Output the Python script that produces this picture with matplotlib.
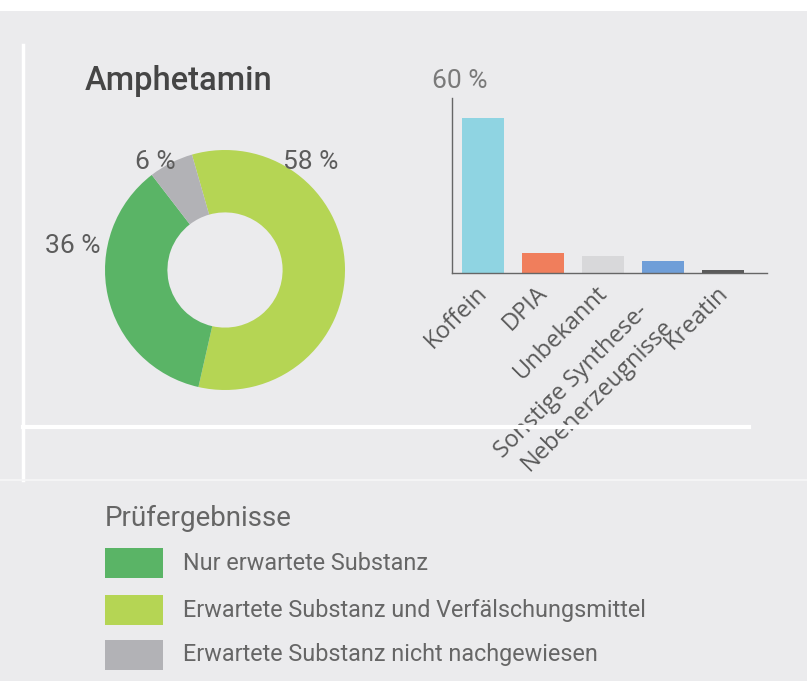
import matplotlib
matplotlib.use("Agg")
import matplotlib.pyplot as plt
from matplotlib.patches import Rectangle
from matplotlib.lines import Line2D

# ---------------- data ----------------
title = "Amphetamin"
donut_labels = ["Erwartete Substanz und Verfälschungsmittel", "Nur erwartete Substanz",
                "Erwartete Substanz nicht nachgewiesen"]
donut_values = [58, 36, 6]
donut_colors = ["#b5d554", "#5ab466", "#b2b2b6"]

legend_title = "Prüfergebnisse"
legend_labels = ["Nur erwartete Substanz", "Erwartete Substanz und Verfälschungsmittel",
                 "Erwartete Substanz nicht nachgewiesen"]
legend_colors = ["#5ab466", "#b5d554", "#b2b2b6"]

bar_categories = ["Koffein", "DPIA", "Unbekannt", "Sonstige Synthese-\nNebenerzeugnisse", "Kreatin"]
bar_values = [53, 7, 6, 4, 1]
bar_colors = ["#8fd4e2", "#f07e5c", "#d8d8da", "#6f9ed8", "#5a5a5a"]
bar_ymax = 60

W, H = 807, 681
BG = "#ebebed"
TXT = "#5a5a5a"
FONT = "Roboto"
LABEL_FONT = "Open Sans"

def fx(x):
    return x / W

def fy(y):
    return 1 - y / H

fig = plt.figure(figsize=(W / 100, H / 100), dpi=100)
fig.patch.set_facecolor(BG)

# decorative frame lines
fig.add_artist(Rectangle((0, fy(11)), 1, 11 / H, transform=fig.transFigure,
                         facecolor="white", edgecolor="none"))
fig.add_artist(Line2D([fx(23), fx(23)], [fy(45), fy(480)], transform=fig.transFigure,
                      color="white", lw=2.5))
fig.add_artist(Line2D([fx(23), fx(749)], [fy(427), fy(427)], transform=fig.transFigure,
                      color="white", lw=3))
fig.add_artist(Line2D([0, 1], [fy(480), fy(480)], transform=fig.transFigure,
                      color="#f6f6f7", lw=1.2))

# title
fig.text(fx(85), fy(81), title, fontsize=23.5, fontweight="medium", color="#454545",
         family=FONT, va="center", ha="left")

# ---------------- donut ----------------
cx, cy, r = 225, 270, 120
axd = fig.add_axes([fx(cx - r), fy(cy + r), 2 * r / W, 2 * r / H])
axd.pie(donut_values, colors=donut_colors, startangle=106, counterclock=False,
        radius=1, wedgeprops=dict(width=0.52, edgecolor="none"))
axd.set_xlim(-1, 1)
axd.set_ylim(-1, 1)
axd.axis("off")

pct_positions = [(311, 162), (73, 246), (155, 162)]
for v, (px, py) in zip(donut_values, pct_positions):
    fig.text(fx(px), fy(py), f"{v} %", fontsize=19, color="#5c5c5c",
             family=FONT, ha="center", va="center")

# ---------------- bar chart ----------------
axb = fig.add_axes([fx(452), fy(273), (767 - 452) / W, (273 - 98) / H])
axb.set_facecolor("none")
xs = list(range(len(bar_categories)))
axb.bar(xs, bar_values, width=0.7, color=bar_colors)
axb.set_xlim(-0.51, 4.74)
axb.set_ylim(0, bar_ymax)
for s in ["top", "right"]:
    axb.spines[s].set_visible(False)
for s in ["left", "bottom"]:
    axb.spines[s].set_color("#666666")
    axb.spines[s].set_linewidth(1.0)
axb.set_yticks([])
axb.set_xticks(xs)
axb.set_xticklabels([])
axb.tick_params(axis="x", length=0)

label_style = dict(xycoords=("data", "axes fraction"), textcoords="offset points",
                   rotation=45, rotation_mode="anchor", ha="right", va="top",
                   fontsize=17, color=TXT, family=LABEL_FONT, annotation_clip=False)
for i, lab in enumerate(bar_categories):
    lines = lab.split("\n")
    if len(lines) == 1:
        axb.annotate(lab, xy=(i, 0), xytext=(-5, -6), **label_style)
    else:
        line_offsets = [(-19, -19), (-1, -30)]
        for line, off in zip(lines, line_offsets):
            axb.annotate(line, xy=(i, 0), xytext=off, **label_style)

fig.text(fx(460), fy(81), f"{bar_ymax} %", fontsize=19, color="#7a7a7a",
         family=FONT, ha="center", va="center")

# ---------------- legend ----------------
fig.text(fx(105), fy(518), legend_title, fontsize=20, color="#666666",
         family=FONT, ha="left", va="center")
rows_y = [563, 610, 655]
for lab, col, yy in zip(legend_labels, legend_colors, rows_y):
    fig.add_artist(Rectangle((fx(105), fy(yy + 15)), 58 / W, 30 / H,
                             transform=fig.transFigure, facecolor=col, edgecolor="none"))
    fig.text(fx(183), fy(yy), lab, fontsize=16.8, color="#666666",
             family=FONT, ha="left", va="center")

fig.savefig("out.png", dpi=100, facecolor=fig.get_facecolor())
